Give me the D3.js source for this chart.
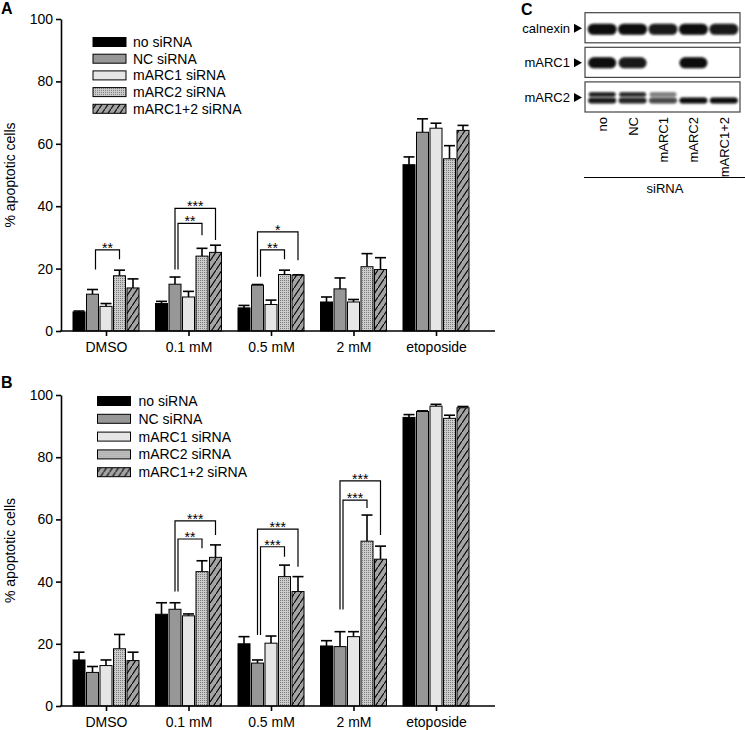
<!DOCTYPE html>
<html>
<head>
<meta charset="utf-8">
<script src="https://cdn.jsdelivr.net/npm/d3@7"></script>
<style>
  body { margin: 0; background: #fff; }
  svg text { font-family: "Liberation Sans", Arial, sans-serif; fill: #000; }
</style>
</head>
<body>
<div id="viz"></div>
<script>
var width = 745,
    height = 730;

// categories and series
var categories = ['DMSO', '0.1 mM', '0.5 mM', '2 mM', 'etoposide'];
var seriesNames = ['no siRNA', 'NC siRNA', 'mARC1 siRNA', 'mARC2 siRNA', 'mARC1+2 siRNA'];
var yTicks = [0, 20, 40, 60, 80, 100];

// panel A (means and upper error, % apoptotic cells)
var noA   = [6.1, 8.8, 7.4, 9.3, 53.3],   noAErr   = [0.3, 0.7, 0.8, 1.6, 2.5];
var ncA   = [11.8, 15.0, 14.7, 13.5, 63.7], ncAErr = [1.5, 2.3, 0.2, 3.5, 4.3];
var m1A   = [7.9, 10.9, 8.5, 9.3, 65.0],  m1AErr   = [0.9, 1.8, 1.4, 0.8, 1.6];
var m2A   = [17.7, 24.0, 18.1, 20.6, 55.2], m2AErr = [1.8, 2.5, 1.4, 4.2, 4.2];
var m12A  = [13.8, 25.2, 17.9, 19.7, 64.3], m12AErr = [2.9, 2.3, 0.1, 3.8, 1.6];

// panel B
var noB   = [14.8, 29.5, 20.0, 19.3, 92.8], noBErr  = [2.5, 3.7, 2.3, 1.7, 0.9];
var ncB   = [10.8, 31.1, 13.8, 19.1, 94.7], ncBErr  = [1.9, 2.1, 1.0, 4.8, 0.2];
var m1B   = [13.0, 29.0, 20.2, 22.3, 96.4], m1BErr  = [1.8, 0.6, 2.3, 1.6, 0.6];
var m2B   = [18.4, 43.2, 41.6, 53.0, 92.5], m2BErr  = [4.6, 3.5, 3.7, 8.4, 1.0];
var m12B  = [14.6, 47.8, 36.8, 47.2, 95.9], m12BErr = [2.7, 4.0, 4.8, 4.2, 0.4];

// significance brackets: category, from series, to series, top, left leg end, right leg end, label
var bracketsA = [
  ['DMSO', 1, 3, 26.0, 19.7, 23.0, '**'],
  ['0.1 mM', 1, 3, 34.5, 19.7, 30.7, '**'],
  ['0.1 mM', 1, 4, 39.3, 19.7, 29.2, '***'],
  ['0.5 mM', 1, 3, 26.0, 17.4, 23.0, '**'],
  ['0.5 mM', 1, 4, 31.8, 17.4, 22.7, '*']
];
var bracketsB = [
  ['0.1 mM', 1, 3, 53.7, 36.8, 50.7, '**'],
  ['0.1 mM', 1, 4, 59.5, 36.8, 55.0, '***'],
  ['0.5 mM', 1, 3, 51.2, 22.8, 48.0, '***'],
  ['0.5 mM', 1, 4, 56.9, 22.8, 44.8, '***'],
  ['2 mM', 1, 3, 66.2, 31.0, 63.7, '***'],
  ['2 mM', 1, 4, 72.4, 31.0, 55.0, '***']
];

// western blot (C)
var lanes = ['no', 'NC', 'mARC1', 'mARC2', 'mARC1+2'];
var blotRows = ['calnexin', 'mARC1', 'mARC2'];
var calnexinLevel = [1, 1, 0.95, 1, 0.95];
var marc1Level = [1, 0.95, 0, 1, 0];
var marc2UpperLevel = [0.95, 0.9, 0.55, 0, 0];
var marc2LowerLevel = [0.95, 0.9, 0.75, 1, 1];

var fills = ['#000', '#979797', '#e6e6e6', 'url(#dots)', 'url(#hatch)'];

var svg = d3.select('#viz')
  .append('svg')
  .attr('width', width)
  .attr('height', height);

var defs = svg.append('defs');

var dots = defs.append('pattern')
  .attr('id', 'dots')
  .attr('patternUnits', 'userSpaceOnUse')
  .attr('width', 2).attr('height', 2);
dots.append('rect').attr('width', 2).attr('height', 2).attr('fill', '#cccccc');
dots.append('rect').attr('width', 1).attr('height', 1).attr('fill', '#7c7c7c');

var hatch = defs.append('pattern')
  .attr('id', 'hatch')
  .attr('patternUnits', 'userSpaceOnUse')
  .attr('width', 6).attr('height', 9);
hatch.append('rect').attr('width', 6).attr('height', 9).attr('fill', '#a4a4a4');
hatch.append('path')
  .attr('d', 'M-1,10.5 L7,-1.5')
  .attr('stroke', '#000')
  .attr('stroke-width', 1.1);

defs.append('filter')
  .attr('id', 'blur')
  .attr('x', '-30%').attr('y', '-60%').attr('width', '160%').attr('height', '220%')
  .append('feGaussianBlur')
  .attr('stdDeviation', 1.3);

var x = d3.scalePoint().domain(categories).range([106, 436]);
var xBar = d3.scaleBand().domain(seriesNames).range([-33, 33]).paddingInner(0.111);

//Dibujo un panel de barras
function drawPanel(opts) {
  var g = svg.append('g');
  var y = d3.scaleLinear().domain([0, 100]).range([opts.y0, opts.y1]);

  var rows = seriesNames.map(function(s, i) {
    return categories.map(function(c, j) {
      return { cat: c, s: s, i: i, v: opts.means[i][j], e: opts.errs[i][j] };
    });
  });
  var flat = [].concat.apply([], rows);

  // error bars (upper only)
  var eb = g.selectAll('.err').data(flat).enter().append('g');
  eb.append('line')
    .attr('x1', function(d) { return x(d.cat) + xBar(d.s) + xBar.bandwidth() / 2; })
    .attr('x2', function(d) { return x(d.cat) + xBar(d.s) + xBar.bandwidth() / 2; })
    .attr('y1', function(d) { return y(d.v); })
    .attr('y2', function(d) { return y(d.v + d.e); })
    .attr('stroke', '#000').attr('stroke-width', 1.6);
  eb.append('line')
    .attr('x1', function(d) { return x(d.cat) + xBar(d.s) + 0.5; })
    .attr('x2', function(d) { return x(d.cat) + xBar(d.s) + xBar.bandwidth() - 0.5; })
    .attr('y1', function(d) { return y(d.v + d.e); })
    .attr('y2', function(d) { return y(d.v + d.e); })
    .attr('stroke', '#000').attr('stroke-width', 1.6);

  g.selectAll('.bar').data(flat).enter().append('rect')
    .attr('x', function(d) { return x(d.cat) + xBar(d.s); })
    .attr('y', function(d) { return y(d.v); })
    .attr('width', xBar.bandwidth())
    .attr('height', function(d) { return y(0) - y(d.v); })
    .attr('fill', function(d) { return fills[d.i]; })
    .attr('stroke', '#000')
    .attr('stroke-width', 1);

  // brackets
  opts.brackets.forEach(function(b) {
    var inner = b[2] === 3;
    var xl = x(b[0]) + xBar(seriesNames[b[1]]) + xBar.bandwidth() / 2 + (inner ? 3 : 0);
    var xr = x(b[0]) + xBar(seriesNames[b[2]]) + xBar.bandwidth() / 2;
    g.append('path')
      .attr('d', 'M' + xl + ',' + y(b[4]) + 'V' + y(b[3]) + 'H' + xr + 'V' + y(b[5]))
      .attr('fill', 'none')
      .attr('stroke', '#000')
      .attr('stroke-width', 1.2);
    g.append('text')
      .attr('x', (xl + xr) / 2)
      .attr('y', y(b[3]) + 3)
      .attr('text-anchor', 'middle')
      .style('font-size', '14px')
      .text(b[6]);
  });

  // axes
  var yAxis = g.append('g')
    .attr('transform', 'translate(61,0)')
    .call(d3.axisLeft(y).tickValues(yTicks).tickSize(5).tickSizeOuter(0).tickPadding(3));
  yAxis.selectAll('path, line').attr('stroke', '#000').attr('stroke-width', 1.6);
  yAxis.selectAll('text').style('font-size', '14px');

  var xAxis = g.append('g')
    .attr('transform', 'translate(0,' + y(0) + ')')
    .call(d3.axisBottom(x).tickSize(5).tickPadding(6));
  xAxis.select('.domain').remove();
  xAxis.selectAll('line').attr('stroke', '#000').attr('stroke-width', 1.6);
  xAxis.selectAll('text').style('font-size', '14px');
  g.append('line')
    .attr('x1', 60).attr('x2', 495)
    .attr('y1', y(0)).attr('y2', y(0))
    .attr('stroke', '#000').attr('stroke-width', 1.6);

  g.append('text')
    .attr('transform', 'translate(15,' + (opts.y0 + opts.y1) / 2 + ') rotate(-90)')
    .attr('text-anchor', 'middle')
    .style('font-size', '14px')
    .text('% apoptotic cells');

  // legend
  var lg = g.append('g').attr('transform', 'translate(' + opts.legX + ',' + opts.legY + ')');
  var item = lg.selectAll('g').data(seriesNames).enter().append('g')
    .attr('transform', function(d, i) { return 'translate(0,' + i * opts.legStep + ')'; });
  item.append('rect')
    .attr('x', 0).attr('y', -4.5)
    .attr('width', 33).attr('height', 9)
    .attr('fill', function(d, i) { return fills[i]; })
    .attr('stroke', '#000').attr('stroke-width', 1);
  item.append('text')
    .attr('x', opts.legText).attr('y', 5)
    .style('font-size', '14px')
    .text(function(d) { return d; });

  svg.append('text')
    .attr('x', 1).attr('y', opts.letterY)
    .style('font-size', '16px').style('font-weight', 'bold')
    .text(opts.letter);
}

drawPanel({
  y0: 331, y1: 19,
  means: [noA, ncA, m1A, m2A, m12A],
  errs: [noAErr, ncAErr, m1AErr, m2AErr, m12AErr],
  brackets: bracketsA,
  legX: 93, legY: 42, legStep: 16.7, legText: 40,
  letter: 'A', letterY: 14
});

drawPanel({
  y0: 706, y1: 395,
  means: [noB, ncB, m1B, m2B, m12B],
  errs: [noBErr, ncBErr, m1BErr, m2BErr, m12BErr],
  brackets: bracketsB,
  legX: 97.5, legY: 401, legStep: 17.8, legText: 41,
  letter: 'B', letterY: 388
});

//Panel C: western blot
var blot = svg.append('g');
var lane = d3.scaleBand().domain(lanes).range([587, 739]);
var rowY = d3.scaleBand().domain(blotRows).range([12.7, 112]).paddingInner(0.13);

blot.selectAll('.box').data(blotRows).enter().append('rect')
  .attr('x', 585).attr('width', 155)
  .attr('y', function(d) { return rowY(d); })
  .attr('height', rowY.bandwidth())
  .attr('fill', '#fff')
  .attr('stroke', '#444')
  .attr('stroke-width', 1.2);

blot.selectAll('.rowlab').data(blotRows).enter().append('text')
  .attr('x', 570)
  .attr('y', function(d) { return rowY(d) + rowY.bandwidth() / 2 + 5; })
  .attr('text-anchor', 'end')
  .style('font-size', '13px')
  .text(function(d) { return d; });

blot.selectAll('.arrow').data(blotRows).enter().append('path')
  .attr('d', function(d) {
    var cy = rowY(d) + rowY.bandwidth() / 2 + 0.5;
    return 'M574,' + (cy - 4.5) + 'L582,' + cy + 'L574,' + (cy + 4.5) + 'Z';
  })
  .attr('fill', '#000');

function bands(levels, row, dy, h, w) {
  blot.append('g').selectAll('rect').data(lanes.map(function(l, i) { return { l: l, v: levels[i] }; }))
    .enter().append('rect')
    .filter(function(d) { return d.v > 0; })
    .attr('x', function(d) { return lane(d.l) + lane.bandwidth() / 2 - w / 2; })
    .attr('y', rowY(row) + rowY.bandwidth() / 2 + dy - h / 2)
    .attr('width', w)
    .attr('height', h)
    .attr('rx', h / 2)
    .attr('fill', '#080808')
    .attr('opacity', function(d) { return d.v; })
    .attr('filter', 'url(#blur)');
}

bands(calnexinLevel, 'calnexin', 1.5, 11, 29);
bands(marc1Level, 'mARC1', 0.5, 11, 28);
bands(marc2UpperLevel, 'mARC2', -2.5, 4.5, 27);
bands(marc2LowerLevel, 'mARC2', 3.5, 6, 28);

blot.selectAll('.lanelab').data(lanes).enter().append('text')
  .attr('transform', function(d) {
    return 'translate(' + (lane(d) + lane.bandwidth() / 2 + 5) + ',117) rotate(-90)';
  })
  .attr('text-anchor', 'end')
  .style('font-size', '13px')
  .text(function(d) { return d; });

blot.append('line')
  .attr('x1', 584).attr('x2', 745)
  .attr('y1', 177.5).attr('y2', 177.5)
  .attr('stroke', '#000').attr('stroke-width', 1);

blot.append('text')
  .attr('x', 665).attr('y', 193)
  .attr('text-anchor', 'middle')
  .style('font-size', '13px')
  .text('siRNA');

svg.append('text')
  .attr('x', 521).attr('y', 15)
  .style('font-size', '16px').style('font-weight', 'bold')
  .text('C');
</script>
</body>
</html>
